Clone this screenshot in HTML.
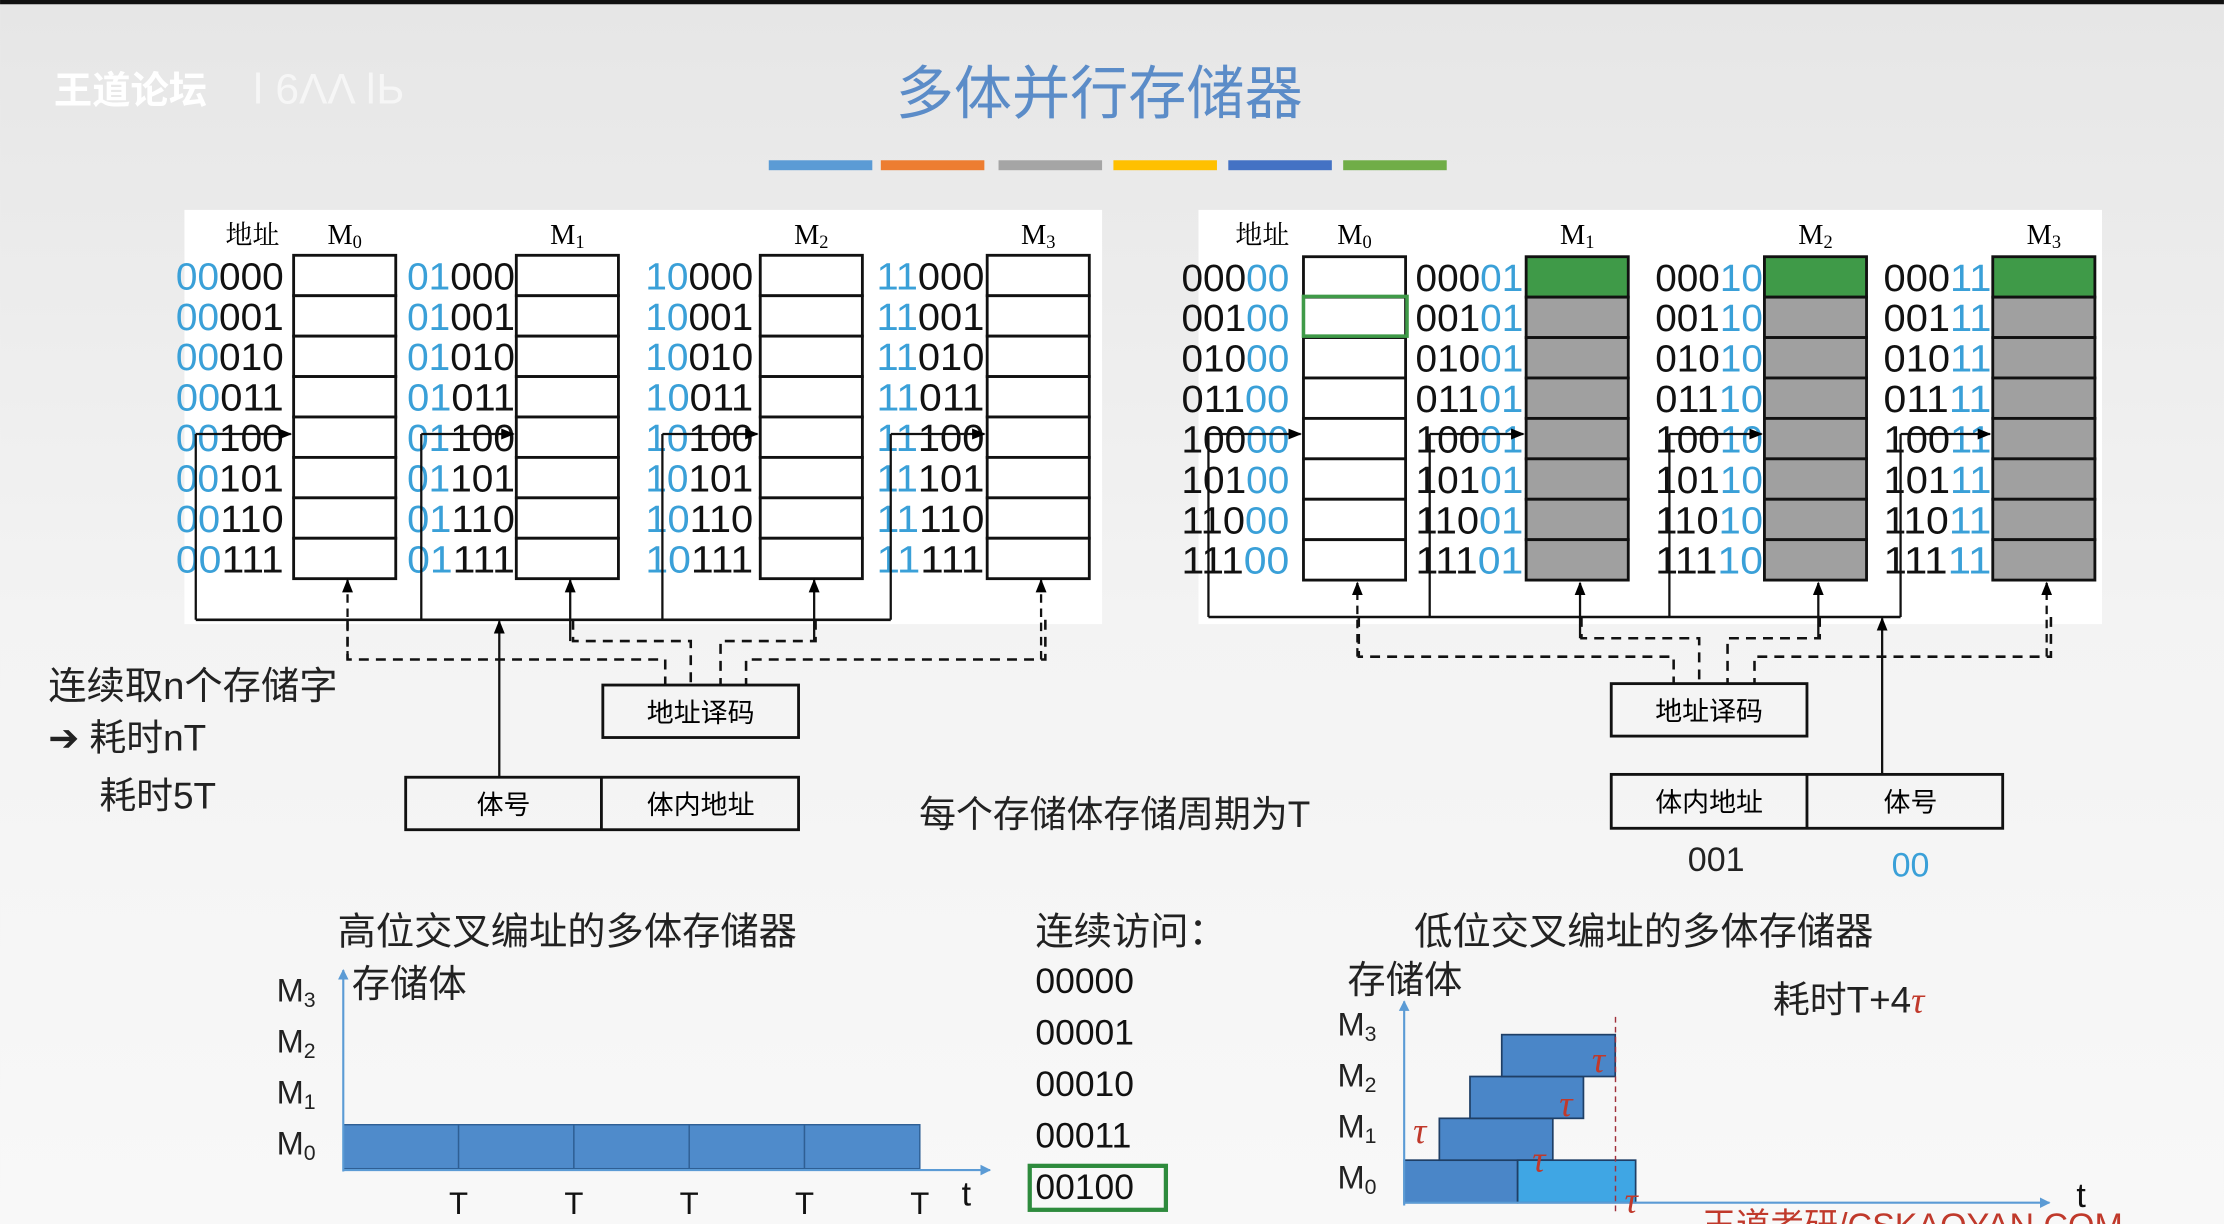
<!DOCTYPE html>
<html><head><meta charset="utf-8"><style>
html,body{margin:0;padding:0;background:#f2f2f2;}
svg{display:block;}
text{font-family:"Liberation Sans","Noto Sans CJK SC",sans-serif;}
.serif{font-family:"Liberation Serif","Noto Serif CJK SC",serif;}
</style></head><body>
<svg id="s" width="2224" height="1224" viewBox="0 0 1568 863" xmlns="http://www.w3.org/2000/svg">
<defs>
<linearGradient id="bg" x1="0" y1="0" x2="0" y2="1"><stop offset="0" stop-color="#e6e6e6"/><stop offset="0.5" stop-color="#f3f3f3"/><stop offset="1" stop-color="#f8f8f8"/></linearGradient>
<marker id="ar" viewBox="0 0 10 10" refX="9" refY="5" markerWidth="6" markerHeight="8" orient="auto"><path d="M0,1 L10,5 L0,9 Z" fill="#000"/></marker>
<marker id="arb" viewBox="0 0 10 10" refX="9" refY="5" markerWidth="5" markerHeight="6" orient="auto"><path d="M0,0 L10,5 L0,10 Z" fill="#5b9bd5"/></marker>
</defs>
<rect width="1568" height="863" fill="url(#bg)"/>
<rect width="1568" height="3" fill="#111"/>
<text x="38" y="73" font-size="27" font-weight="bold" fill="#fff">王道论坛</text>
<text x="178" y="73" font-size="30" fill="#fafafa" opacity="0.8">ǀ 6ΛΛ ǀЬ</text>
<text x="775" y="80" font-size="41" fill="#5b8cc8" text-anchor="middle">多体并行存储器</text>
<g id="colorbars"></g>
<rect x="130" y="148" width="647" height="292" fill="#fff"/>
<rect x="845" y="148" width="637" height="292" fill="#fff"/>
<g id="left"></g>
<g id="right"></g>

<text x="34" y="493" font-size="27" fill="#222">连续取n个存储字</text>
<text x="34" y="529" font-size="26" fill="#222">➔ 耗时nT</text>
<text x="70" y="570" font-size="26" fill="#222">耗时5T</text>
<text x="648" y="583" font-size="26" fill="#222">每个存储体存储周期为T</text>
<text x="1210" y="614" font-size="24" fill="#222" text-anchor="middle">001</text>
<text x="1347" y="618" font-size="24" fill="#3aa0d8" text-anchor="middle">00</text>

<text x="238" y="666" font-size="27" fill="#222">高位交叉编址的多体存储器</text>
<text x="248" y="703" font-size="27" fill="#222">存储体</text>
<text x="730" y="666" font-size="27" fill="#222">连续访问：</text>
<g id="seq"></g>
<g id="hchart"></g>

<text x="997" y="666" font-size="27" fill="#222">低位交叉编址的多体存储器</text>
<text x="950" y="700" font-size="27" fill="#222">存储体</text>
<text x="1250" y="714" font-size="26" fill="#222">耗时T+4<tspan fill="#c0392b" font-style="italic" class="serif">τ</tspan></text>
<g id="lchart"></g>
<text x="1200" y="872" font-size="24" fill="#c0392b">王道考研/CSKAOYAN.COM</text>
</svg>
<script>
const NS="http://www.w3.org/2000/svg";
function mk(p,t,a,txt){const e=document.createElementNS(NS,t);for(const k in a)e.setAttribute(k,a[k]);if(txt!==undefined)e.textContent=txt;p.appendChild(e);return e;}
const barColors=["#5b9bd5","#ed7d31","#a5a5a5","#ffc000","#4472c4","#70ad47"];
const cb=document.getElementById('colorbars');
const cbX=[542,621,704,785,866,947];
barColors.forEach((c,i)=>{const r=mk(cb,'rect',{x:cbX[i],y:113,width:73,height:7,fill:c});

});

const L=document.getElementById('left');
const hiPrefix=["00","01","10","11"];
const lowBits=["000","001","010","011","100","101","110","111"];
const lBox=[207,364,536,696], lLab=[124,287,455,618], lBus=[138,297,467,628];
const rowY0=180,rowH=28.5;
function label(g,x,y,blue,black,blueFirst){
  const t=mk(g,'text',{x:x,y:y,'font-size':27,textLength:76,lengthAdjust:'spacingAndGlyphs',fill:'#111'});
  
  
  mk(t,'tspan',{fill:blueFirst?'#3aa0d8':'#111'},blueFirst?blue:black);
  mk(t,'tspan',{fill:blueFirst?'#111':'#3aa0d8'},blueFirst?black:blue);
}
for(let m=0;m<4;m++){
  const bx=lBox[m];
  const mt=mk(L,'text',{x:bx+36,y:172,'font-size':20,'text-anchor':'middle',class:'serif'},'M');
  mk(mt,'tspan',{'font-size':13,dy:3},String(m));
  for(let r=0;r<8;r++){
    const c=mk(L,'rect',{x:bx,y:rowY0+r*rowH,width:72,height:rowH,fill:'#fff',stroke:'#111','stroke-width':2});
    
    
    label(L,lLab[m],rowY0+r*rowH+24,hiPrefix[m],lowBits[r],true);
  }
  mk(L,'line',{x1:lBus[m],y1:306,x2:lBus[m],y2:437,stroke:'#111','stroke-width':1.6});
  mk(L,'line',{x1:lBus[m],y1:306,x2:bx-2,y2:306,stroke:'#111','stroke-width':1.6,'marker-end':'url(#ar)'});
  mk(L,'line',{x1:bx+38,y1:m==3||m==0?465:452,x2:bx+38,y2:409,stroke:'#111','stroke-width':1.6,'stroke-dasharray':m==3||m==0?'6 4':'0','marker-end':'url(#ar)'});
}
mk(L,'text',{x:178,y:172,'font-size':19,'text-anchor':'middle',class:'serif'},'地址');
mk(L,'line',{x1:138,y1:437,x2:628,y2:437,stroke:'#111','stroke-width':1.8});
const dsh={stroke:'#111','stroke-width':1.8,'stroke-dasharray':'7 5',fill:'none'};
mk(L,'polyline',Object.assign({points:'245,437 245,465 469,465 469,483'},dsh));
mk(L,'polyline',Object.assign({points:'404,437 404,452 487,452 487,483'},dsh));
mk(L,'polyline',Object.assign({points:'575,437 575,452 508,452 508,483'},dsh));
mk(L,'polyline',Object.assign({points:'737,437 737,465 526,465 526,483'},dsh));
mk(L,'rect',{x:425,y:483,width:138,height:37,fill:'none',stroke:'#111','stroke-width':2});
mk(L,'text',{x:494,y:509,'font-size':19,'text-anchor':'middle'},'地址译码');
mk(L,'rect',{x:286,y:548,width:277,height:37,fill:'none',stroke:'#111','stroke-width':2});
mk(L,'line',{x1:424,y1:548,x2:424,y2:585,stroke:'#111','stroke-width':2});
mk(L,'text',{x:355,y:574,'font-size':19,'text-anchor':'middle'},'体号');
mk(L,'text',{x:494,y:574,'font-size':19,'text-anchor':'middle'},'体内地址');
mk(L,'line',{x1:352,y1:548,x2:352,y2:438,stroke:'#111','stroke-width':1.6,'marker-end':'url(#ar)'});

const R=document.getElementById('right');
const rBox=[919,1076,1244,1405], rLab=[833,998,1167,1328], rBus=[852,1008,1177,1340];
const hiBits=["000","001","010","011","100","101","110","111"];
const lowPrefix=["00","01","10","11"];
for(let m=0;m<4;m++){
  const bx=rBox[m];
  const t=mk(R,'text',{x:bx+36,y:172,'font-size':20,'text-anchor':'middle',class:'serif'},'M');
  mk(t,'tspan',{'font-size':13,dy:3},String(m));
  for(let r=0;r<8;r++){
    let fill='#fff'; if(m>0) fill=r==0?'#3f9a48':'#a0a0a0';
    const c=mk(R,'rect',{x:bx,y:rowY0+r*rowH+1,width:72,height:rowH,fill:fill,stroke:'#111','stroke-width':2});
    
    
    label(R,rLab[m],rowY0+r*rowH+25,lowPrefix[m],hiBits[r],false);
  }
  mk(R,'line',{x1:rBus[m],y1:306,x2:rBus[m],y2:435,stroke:'#111','stroke-width':1.6});
  mk(R,'line',{x1:rBus[m],y1:306,x2:bx-2,y2:306,stroke:'#111','stroke-width':1.6,'marker-end':'url(#ar)'});
  mk(R,'line',{x1:bx+38,y1:m==3||m==0?463:450,x2:bx+38,y2:411,stroke:'#111','stroke-width':1.6,'stroke-dasharray':m==3||m==0?'6 4':'0','marker-end':'url(#ar)'});
}
mk(R,'rect',{x:919,y:209,width:73,height:28,fill:'none',stroke:'#3f9a48','stroke-width':2.5});
mk(R,'text',{x:890,y:172,'font-size':19,'text-anchor':'middle',class:'serif'},'地址');
mk(R,'line',{x1:852,y1:435,x2:1340,y2:435,stroke:'#111','stroke-width':1.8});
mk(R,'polyline',Object.assign({points:'958,435 958,463 1180,463 1180,482'},dsh));
mk(R,'polyline',Object.assign({points:'1115,435 1115,450 1198,450 1198,482'},dsh));
mk(R,'polyline',Object.assign({points:'1283,435 1283,450 1218,450 1218,482'},dsh));
mk(R,'polyline',Object.assign({points:'1446,435 1446,463 1237,463 1237,482'},dsh));
mk(R,'rect',{x:1136,y:482,width:138,height:37,fill:'none',stroke:'#111','stroke-width':2});
mk(R,'text',{x:1205,y:508,'font-size':19,'text-anchor':'middle'},'地址译码');
mk(R,'rect',{x:1136,y:546,width:276,height:38,fill:'none',stroke:'#111','stroke-width':2});
mk(R,'line',{x1:1274,y1:546,x2:1274,y2:584,stroke:'#111','stroke-width':2});
mk(R,'text',{x:1205,y:572,'font-size':19,'text-anchor':'middle'},'体内地址');
mk(R,'text',{x:1347,y:572,'font-size':19,'text-anchor':'middle'},'体号');
mk(R,'line',{x1:1327,y1:546,x2:1327,y2:436,stroke:'#111','stroke-width':1.6,'marker-end':'url(#ar)'});

const seqAddrs=["00000","00001","00010","00011","00100"];
const SQ=document.getElementById('seq');
seqAddrs.forEach((a,i)=>{const t=mk(SQ,'text',{x:730,y:700+i*36.3,'font-size':25,fill:'#111'},a);

});
mk(SQ,'rect',{x:726,y:822,width:96,height:31,fill:'none',stroke:'#2e8b3d','stroke-width':3});

const banks=["M3","M2","M1","M0"];
const hiStarts=[0,1,2,3,4];
const hiBank=[0,0,0,0,0];
const hiDur=[1,1,1,1,1];
const hiTicks=["T","T","T","T","T"];
const H=document.getElementById('hchart');
const hx=t=>242+t*81.3, hy=b=>825-b*36-32;
banks.forEach((b,i)=>{const t=mk(H,'text',{x:195,y:706+i*36,'font-size':23,fill:'#222'},'M');mk(t,'tspan',{'font-size':15,dy:4},b[1]);

});
hiStarts.forEach((s,i)=>{const r=mk(H,'rect',{x:hx(s),y:hy(hiBank[i]),width:hx(s+hiDur[i])-hx(s),height:31,fill:'#4f8bcb',stroke:'#2f5f94','stroke-width':1});

});
hiTicks.forEach((tk,i)=>{const t=mk(H,'text',{x:hx(i+1),y:856,'font-size':22,'text-anchor':'middle',fill:'#111'},tk);

});
mk(H,'line',{x1:242,y1:826,x2:242,y2:684,stroke:'#5b9bd5','stroke-width':1.5,'marker-end':'url(#arb)'});
mk(H,'line',{x1:242,y1:825,x2:698,y2:825,stroke:'#5b9bd5','stroke-width':1.5,'marker-end':'url(#arb)'});
mk(H,'text',{x:678,y:850,'font-size':24,fill:'#111'},'t');

const loStarts=[0,0.31,0.58,0.86,1.0];
const loBank=[0,1,2,3,0];
const loDur=[1,1,1,1,1.04];
const G=document.getElementById('lchart');
const lx=t=>990+t*80, ly=b=>818-b*29.5;
banks.forEach((b,i)=>{const t=mk(G,'text',{x:943,y:730+i*36,'font-size':23,fill:'#222'},'M');mk(t,'tspan',{'font-size':15,dy:4},b[1]);

});
loStarts.forEach((s,i)=>{const r=mk(G,'rect',{x:lx(s),y:ly(loBank[i]),width:lx(s+loDur[i])-lx(s),height:i==0||i==4?30:29.5,fill:i==4?'#3fa6e4':'#4a86c8',stroke:'#1f3f66','stroke-width':1.2});

});
mk(G,'line',{x1:1139,y1:717,x2:1139,y2:856,stroke:'#a0303a','stroke-width':1,'stroke-dasharray':'4 3'});
mk(G,'line',{x1:990,y1:850,x2:990,y2:706,stroke:'#5b9bd5','stroke-width':1.5,'marker-end':'url(#arb)'});
mk(G,'line',{x1:990,y1:848,x2:1445,y2:848,stroke:'#5b9bd5','stroke-width':1.5,'marker-end':'url(#arb)'});
mk(G,'text',{x:1464,y:851,'font-size':24,fill:'#111'},'t');
const tauPos=[[1001,806],[1085,826],[1104,787],[1127,756],[1150,855]];
tauPos.forEach(p=>{const t=mk(G,'text',{x:p[0],y:p[1],'font-size':26,'font-style':'italic',fill:'#c0392b','text-anchor':'middle',class:'serif'},'τ');

});
</script>
</body></html>
